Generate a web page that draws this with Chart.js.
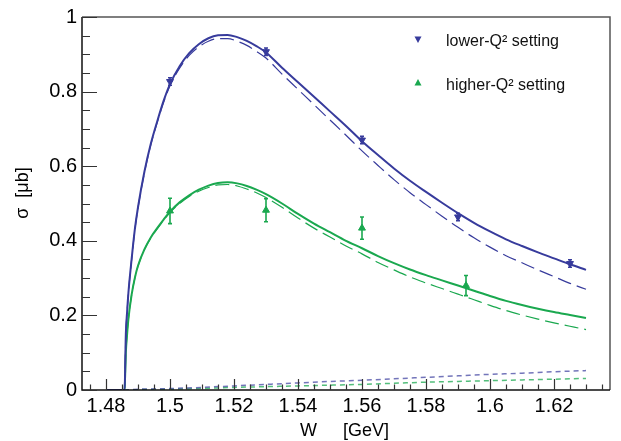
<!DOCTYPE html>
<html>
<head>
<meta charset="utf-8">
<script src="https://cdn.jsdelivr.net/npm/chart.js@4.4.1/dist/chart.umd.min.js"></script>
<style>
  html, body { margin: 0; padding: 0; background: #fff; }
  #wrap { width: 621px; height: 441px; position: relative; }
</style>
</head>
<body>
<div id="wrap"><canvas id="c"></canvas></div>
<script>
const C = {
  blue: '#373b9c', green: '#1aa84f',
  blueBg: 'rgba(55,59,156,.7)', greenBg: 'rgba(26,168,79,.75)',
  axis: '#111', frame: '#555',
};
const FONT = '"Liberation Sans", Arial, Helvetica, sans-serif';

// fit curves (W in GeV, sigma in microbarn)
const W = [1.480, 1.4858, 1.4862, 1.4866, 1.487, 1.488, 1.489, 1.490, 1.492, 1.494, 1.496, 1.498, 1.500,
  1.503, 1.506, 1.509, 1.512, 1.515, 1.518, 1.521, 1.524, 1.527, 1.530,
  1.535, 1.540, 1.545, 1.550, 1.555, 1.560, 1.565, 1.570, 1.575, 1.580, 1.585, 1.590, 1.595, 1.600,
  1.605, 1.610, 1.615, 1.620, 1.625, 1.630];
const blueFit = [0, 0, 0.15, 0.21, 0.26, 0.35, 0.43, 0.49, 0.585, 0.66, 0.72, 0.775, 0.82,
  0.868, 0.903, 0.927, 0.943, 0.951, 0.952, 0.946, 0.936, 0.922, 0.905,
  0.864, 0.825, 0.786, 0.747, 0.708, 0.667, 0.63, 0.594, 0.561, 0.531, 0.502, 0.474, 0.448, 0.425,
  0.404, 0.386, 0.369, 0.353, 0.337, 0.322];
const blueFitNoBg = [0, 0, 0.15, 0.21, 0.26, 0.349, 0.428, 0.488, 0.582, 0.657, 0.717, 0.771, 0.816,
  0.863, 0.897, 0.920, 0.935, 0.942, 0.942, 0.935, 0.924, 0.908, 0.890,
  0.847, 0.806, 0.765, 0.724, 0.683, 0.641, 0.602, 0.564, 0.529, 0.497, 0.466, 0.436, 0.408, 0.383,
  0.360, 0.341, 0.322, 0.304, 0.286, 0.270];
const greenFit = [0, 0, 0.10, 0.15, 0.19, 0.255, 0.30, 0.333, 0.377, 0.409, 0.434, 0.457, 0.478,
  0.503, 0.522, 0.537, 0.548, 0.555, 0.557, 0.554, 0.547, 0.537, 0.525,
  0.50, 0.472, 0.446, 0.423, 0.40, 0.38, 0.359, 0.34, 0.323, 0.308, 0.294, 0.28, 0.266, 0.252,
  0.239, 0.228, 0.218, 0.209, 0.201, 0.193];
const greenFitNoBg = [0, 0, 0.10, 0.15, 0.19, 0.255, 0.299, 0.332, 0.376, 0.408, 0.432, 0.455, 0.476,
  0.50, 0.519, 0.533, 0.543, 0.55, 0.551, 0.547, 0.539, 0.529, 0.516,
  0.49, 0.461, 0.434, 0.41, 0.386, 0.365, 0.342, 0.322, 0.303, 0.287, 0.272, 0.257, 0.242, 0.227,
  0.213, 0.201, 0.19, 0.18, 0.171, 0.162];

// background contributions (short dashes at the bottom)
const bgW = [1.48, 1.486, 1.49, 1.50, 1.51, 1.52, 1.53, 1.54, 1.55, 1.56, 1.57, 1.58, 1.59, 1.60, 1.61, 1.62, 1.63];
const blueBg = [0, 0, 0.002, 0.004, 0.007, 0.011, 0.015, 0.019, 0.023, 0.026, 0.030, 0.034, 0.038, 0.042, 0.045, 0.049, 0.052];
const greenBg = [0, 0, 0.001, 0.002, 0.004, 0.007, 0.009, 0.011, 0.013, 0.015, 0.018, 0.021, 0.023, 0.025, 0.027, 0.029, 0.031];

// measured points
const lowW = [1.50, 1.53, 1.56, 1.59, 1.625];
const lowSigma = [0.827, 0.907, 0.670, 0.464, 0.339];
const lowErr = [0.010, 0.010, 0.010, 0.010, 0.010];
const highW = [1.50, 1.53, 1.56, 1.5925];
const highSigma = [0.480, 0.482, 0.434, 0.280];
const highErr = [0.034, 0.031, 0.030, 0.027];

const xTicks = [1.48, 1.50, 1.52, 1.54, 1.56, 1.58, 1.60, 1.62];
const yTicks = [0, 0.2, 0.4, 0.6, 0.8, 1.0];

const pts = (xs, ys) => xs.map((x, i) => ({ x, y: ys[i] }));
const curve = (xs, ys, color, width, dash) => ({
  data: pts(xs, ys), showLine: true, borderColor: color, borderWidth: width, borderDash: dash,
  pointRadius: 0, pointHoverRadius: 0, cubicInterpolationMode: 'monotone', fill: false,
});
const markers = (xs, ys, color, rot) => ({
  data: pts(xs, ys), showLine: false, pointStyle: 'triangle', rotation: rot,
  pointRadius: 4, backgroundColor: color, borderColor: color, borderWidth: 1,
});
const fmtTick = v => String(+v.toFixed(2));

// error bars + inward ticks + frame + titles + legend
const decor = {
  id: 'decor',
  afterDatasetsDraw(chart) {
    const { ctx, chartArea: a, scales: { x, y } } = chart;
    ctx.save();
    [[lowW, lowSigma, lowErr, C.blue], [highW, highSigma, highErr, C.green]].forEach(([xs, ys, es, col]) => {
      ctx.strokeStyle = col; ctx.lineWidth = 1.6;
      xs.forEach((w, i) => {
        const px = x.getPixelForValue(w);
        const y1 = y.getPixelForValue(ys[i] + es[i]), y2 = y.getPixelForValue(ys[i] - es[i]);
        ctx.beginPath();
        ctx.moveTo(px, y1); ctx.lineTo(px, y2);
        ctx.moveTo(px - 2, y1); ctx.lineTo(px + 2, y1);
        ctx.moveTo(px - 2, y2); ctx.lineTo(px + 2, y2);
        ctx.stroke();
      });
    });
    // frame
    ctx.lineWidth = 1.5;
    ctx.strokeStyle = C.frame;
    ctx.beginPath();
    ctx.moveTo(a.left, a.top); ctx.lineTo(a.right, a.top); ctx.lineTo(a.right, a.bottom);
    ctx.stroke();
    ctx.strokeStyle = C.axis;
    ctx.beginPath();
    ctx.moveTo(a.left, a.top); ctx.lineTo(a.left, a.bottom); ctx.lineTo(a.right, a.bottom);
    ctx.stroke();
    // inward ticks
    ctx.strokeStyle = '#333'; ctx.lineWidth = 1.2;
    ctx.beginPath();
    for (let k = 0; k <= 20; k++) {
      const py = Math.round(y.getPixelForValue(k * 0.05)) + 0.5;
      const len = k % 4 === 0 ? 15 : 8;
      ctx.moveTo(a.left, py); ctx.lineTo(a.left + len, py);
    }
    for (let k = 0; k <= 33; k++) {
      const v = 1.475 + k * 0.005;
      if (v > x.max) break;
      const px = Math.round(x.getPixelForValue(v)) + 0.5;
      const len = (k - 1) % 4 === 0 ? 11 : 5.5;
      ctx.moveTo(px, a.bottom); ctx.lineTo(px, a.bottom - len);
    }
    ctx.stroke();
    ctx.restore();
  },
  afterDraw(chart) {
    const { ctx } = chart;
    ctx.save();
    ctx.fillStyle = '#000';
    ctx.font = `18px ${FONT}`;
    ctx.textAlign = 'left'; ctx.textBaseline = 'middle';
    ctx.fillText('W', 300, 431);
    ctx.fillText('[GeV]', 343, 431);
    ctx.textAlign = 'center';
    ctx.translate(23, 193); ctx.rotate(-Math.PI / 2);
    ctx.fillText('σ  [μb]', 0, 0);
    ctx.restore();
    // legend
    ctx.save();
    const tri = (cx, cy, up, col) => {
      const s = up ? -1 : 1;
      ctx.fillStyle = col;
      ctx.beginPath();
      ctx.moveTo(cx, cy + s * 4); ctx.lineTo(cx - 3.5, cy - s * 2.5); ctx.lineTo(cx + 3.5, cy - s * 2.5);
      ctx.closePath(); ctx.fill();
    };
    tri(418, 39, false, C.blue);
    tri(418, 83, true, C.green);
    ctx.fillStyle = '#111';
    ctx.font = `16px ${FONT}`;
    ctx.textAlign = 'left'; ctx.textBaseline = 'middle';
    ctx.fillText('lower-Q² setting', 446, 42);
    ctx.fillText('higher-Q² setting', 446, 86);
    ctx.restore();
  },
};

new Chart(document.getElementById('c'), {
  type: 'scatter',
  data: {
    datasets: [
      markers(lowW, lowSigma, C.blue, 180),
      markers(highW, highSigma, C.green, 0),
      curve(W, blueFit, C.blue, 2, []),
      curve(W, blueFitNoBg, C.blue, 1.2, [14, 6]),
      curve(W, greenFit, C.green, 2, []),
      curve(W, greenFitNoBg, C.green, 1.2, [14, 6]),
      curve(bgW, blueBg, C.blueBg, 1.5, [5, 4]),
      curve(bgW, greenBg, C.greenBg, 1.5, [5, 4]),
    ],
  },
  options: {
    responsive: true, maintainAspectRatio: false, animation: false,
    layout: { padding: { top: 15, right: 11, left: 0, bottom: 0 } },
    plugins: { legend: { display: false }, tooltip: { enabled: false } },
    scales: {
      x: {
        type: 'linear', min: 1.4725, max: 1.6375,
        afterBuildTicks: s => { s.ticks = xTicks.map(v => ({ value: v })); },
        afterFit: s => { s.height = 51; },
        grid: { display: false, drawTicks: false }, border: { display: false },
        ticks: { callback: fmtTick, color: '#000', padding: 4, maxRotation: 0, autoSkip: false, font: { size: 20, family: FONT } },
      },
      y: {
        type: 'linear', min: 0, max: 1,
        afterBuildTicks: s => { s.ticks = yTicks.map(v => ({ value: v })); },
        afterFit: s => { s.width = 82; },
        grid: { display: false, drawTicks: false }, border: { display: false },
        ticks: { callback: fmtTick, color: '#000', padding: 5, font: { size: 20, family: FONT } },
      },
    },
  },
  plugins: [decor],
});
</script>
</body>
</html>
